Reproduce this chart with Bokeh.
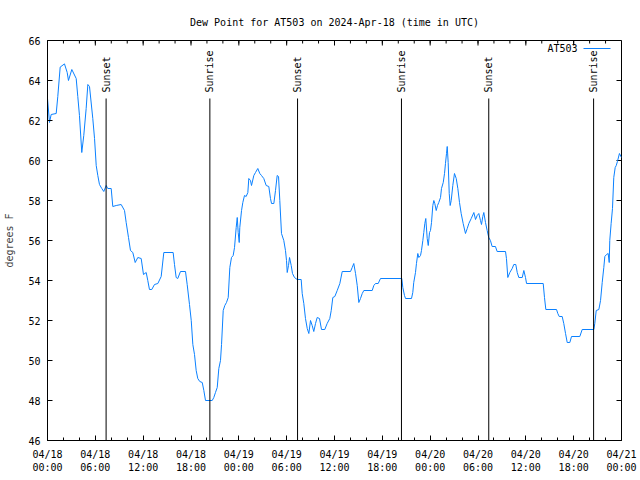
import math
import pandas as pd
from bokeh.plotting import figure
from bokeh.models import (FixedTicker, DatetimeTickFormatter, Range1d, Label, Arrow,
                          ColumnDataSource)
from bokeh.core.properties import value
from bokeh.embed import file_html
from bokeh.resources import INLINE

# ---------------- data ----------------
start = "2024-04-18 00:00"
end = "2024-04-21 00:00"
hours = [0.00, 0.25, 0.46, 1.09, 1.29, 1.59, 2.13, 2.47, 2.63, 3.05, 3.60, 3.80, 4.01, 4.30,
         4.55, 4.85, 5.06, 5.27, 5.68, 5.90, 6.11, 6.31, 6.52, 6.81, 7.06, 7.36, 7.56, 7.99,
         8.19, 8.62, 9.24, 9.66, 9.87, 10.16, 10.41, 10.70, 11.00, 11.33, 11.75, 12.04, 12.38,
         12.58, 12.79, 13.08, 13.42, 13.84, 14.26, 14.59, 15.76, 15.93, 16.14, 16.34, 16.68,
         17.31, 17.52, 17.81, 18.03, 18.23, 18.44, 18.65, 18.85, 19.10, 19.41, 19.61, 19.82,
         20.66, 20.86, 21.07, 21.29, 21.49, 21.70, 21.83, 22.04, 22.24, 22.45, 22.67, 22.87,
         23.08, 23.29, 23.46, 23.67, 23.80, 23.92, 24.05, 24.12, 24.34, 24.50, 24.71, 24.92,
         25.13, 25.25, 25.46, 25.59, 25.88, 26.09, 26.38, 26.63, 26.84, 27.13, 27.43, 27.76,
         27.97, 28.10, 28.39, 28.60, 28.81, 28.98, 29.14, 29.35, 29.64, 29.85, 29.98, 30.07,
         30.23, 30.36, 30.57, 30.73, 30.98, 31.32, 31.82, 31.95, 32.15, 32.36, 32.58, 32.78,
         32.99, 33.20, 33.40, 33.62, 33.83, 34.12, 34.37, 34.78, 35.08, 35.41, 35.59, 35.79,
         36.04, 36.34, 36.67, 36.97, 38.01, 38.22, 38.42, 38.64, 38.85, 39.05, 39.26, 39.48,
         39.68, 40.73, 40.93, 41.14, 41.48, 41.77, 44.44, 44.57, 44.78, 44.91, 45.66, 45.82,
         45.94, 46.16, 46.28, 46.45, 46.58, 46.79, 46.91, 47.08, 47.20, 47.33, 47.45, 47.63,
         47.76, 47.92, 48.04, 48.17, 48.33, 48.46, 48.58, 48.76, 48.92, 49.08, 49.30, 49.42,
         49.64, 49.80, 49.92, 50.05, 50.14, 50.26, 50.39, 50.51, 50.64, 50.84, 51.05, 51.27,
         51.47, 51.68, 51.89, 52.14, 52.43, 52.65, 52.85, 53.15, 53.48, 53.69, 53.90, 54.10,
         54.31, 54.44, 54.60, 54.73, 54.94, 55.15, 55.35, 55.56, 55.77, 56.19, 56.40, 57.45,
         57.57, 57.74, 57.99, 58.29, 58.49, 58.74, 58.92, 59.12, 59.55, 59.75, 59.96, 60.09,
         62.18, 62.34, 62.51, 63.85, 64.01, 64.19, 64.56, 64.76, 64.98, 65.19, 65.52, 65.73,
         66.77, 67.07, 68.53, 68.65, 68.83, 69.16, 69.37, 69.58, 69.78, 69.91, 70.12, 70.33,
         70.46, 70.53, 70.70, 70.87, 71.03, 71.21, 71.34, 71.49, 71.74, 72.00]
dewpoint = [63.1, 61.9, 62.3, 62.35, 63.2, 64.67, 64.83, 64.4, 64.0, 64.55, 64.1, 63.2, 62.25, 60.4,
            61.25, 62.6, 63.8, 63.7, 62.1, 61.1, 59.75, 59.25, 58.8, 58.6, 58.45, 58.75, 58.6, 58.6,
            57.7, 57.75, 57.8, 57.5, 56.9, 56.15, 55.5, 55.4, 54.9, 55.15, 55.1, 54.3, 54.4,
            54.0, 53.55, 53.55, 53.8, 53.85, 54.2, 55.4, 55.4, 54.8, 54.15, 54.1, 54.45,
            54.45, 53.8, 52.8, 52.0, 50.8, 50.3, 49.5, 49.1, 48.95, 48.9, 48.5, 48.0,
            48.0, 48.15, 48.4, 48.65, 49.6, 50.0, 50.8, 52.5, 52.75, 52.9, 53.15, 54.65,
            55.15, 55.25, 55.65, 56.65, 57.15, 56.4, 55.9, 56.65, 57.5, 57.9, 58.25, 58.2,
            58.4, 59.1, 59.0, 58.75, 59.25, 59.4, 59.6, 59.35, 59.25, 59.1, 58.75, 58.7,
            58.1, 57.85, 57.85, 58.5, 59.25, 59.2, 58.0, 56.35, 56.0, 55.5, 55.0, 54.4,
            54.75, 55.15, 54.75, 54.35, 54.15, 54.05, 54.05, 53.35, 52.85, 52.1, 51.6, 51.35,
            52.0, 51.75, 51.45, 51.85, 52.15, 52.1, 51.55, 51.55, 51.85, 52.1, 52.5, 53.15,
            53.2, 53.5, 53.85, 54.45, 54.45, 54.65, 54.85, 54.35, 53.75, 52.9, 53.1, 53.35,
            53.5, 53.5, 53.75, 53.85, 53.85, 54.1, 54.1, 53.65, 53.25, 53.1, 53.1, 53.4,
            53.9, 54.4, 54.85, 55.35, 55.15, 55.25, 55.5, 56.0, 56.4, 56.85, 57.1, 56.1,
            55.75, 56.4, 56.5, 56.9, 57.75, 58.0, 57.85, 57.5, 57.75, 57.9, 58.15, 58.6,
            58.9, 59.35, 59.85, 60.35, 60.7, 59.9, 58.35, 57.75, 58.0, 58.75, 59.35, 59.1,
            58.6, 57.9, 57.35, 56.85, 56.35, 56.6, 56.85, 57.1, 57.4, 57.05, 57.25, 57.35,
            57.0, 56.8, 57.2, 57.4, 56.9, 56.5, 56.15, 56.0, 55.7, 55.7, 55.45, 55.45,
            55.1, 54.15, 54.4, 54.6, 54.8, 54.8, 54.4, 54.15, 54.15, 54.5, 54.15, 53.85,
            53.85, 53.15, 52.55, 52.55, 52.35, 52.2, 52.2, 51.85, 51.35, 50.9, 50.9, 51.2,
            51.2, 51.55, 51.55, 51.85, 52.5, 52.55, 53.0, 53.9, 54.65, 55.2, 55.3, 55.35,
            54.9, 56.0, 56.85, 57.6, 59.15, 59.65, 59.75, 59.95, 60.35, 60.15]
event_times = ["2024-04-18 07:21", "2024-04-18 20:22", "2024-04-19 07:22",
               "2024-04-19 20:24", "2024-04-20 07:21", "2024-04-20 20:30"]
event_names = ["Sunset", "Sunrise", "Sunset", "Sunrise", "Sunset", "Sunrise"]
y_ticks = [46, 48, 50, 52, 54, 56, 58, 60, 62, 64, 66]
x_tick_hours = [0, 6, 12, 18, 24, 30, 36, 42, 48, 54, 60, 66, 72]
x_minor_hours = list(range(0, 73, 2))
series_name = "AT503"
title_text = "Dew Point for AT503 on 2024-Apr-18 (time in UTC)"
y_label = "degrees F"

# ---------------- build ----------------
FONT = "DejaVu Sans Mono"
FS = "10px"
LINE_COLOR = "#0a80ff"
FRAME_W, FRAME_H = 574, 400
MAJ, MIN = 5, 3

t0 = pd.Timestamp(start)
t1 = pd.Timestamp(end)
times = [t0 + pd.Timedelta(hours=h) for h in hours]
ev = [pd.Timestamp(t) for t in event_times]


def ms(ts):
    return ts.value / 1e6


major = [ms(t0 + pd.Timedelta(hours=h)) for h in x_tick_hours]
minor = [ms(t0 + pd.Timedelta(hours=h)) for h in x_minor_hours]
xticker = FixedTicker(ticks=major, minor_ticks=minor)
yticker = FixedTicker(ticks=y_ticks, minor_ticks=[])
fmt_str = "%m/%d\n%H:%M"
xfmt = DatetimeTickFormatter(hours=fmt_str, days=fmt_str, hourmin=fmt_str, minutes=fmt_str,
                             months=fmt_str, years=fmt_str, minsec=fmt_str, seconds=fmt_str)

ylo, yhi = y_ticks[0], y_ticks[-1]
p = figure(width=640, height=480, x_axis_type="datetime",
           x_range=Range1d(t0, t1), y_range=Range1d(ylo, yhi),
           output_backend="svg", toolbar_location=None,
           min_border_left=47, min_border_right=640 - 47 - FRAME_W,
           min_border_top=40, min_border_bottom=480 - 40 - FRAME_H)
p.xgrid.visible = False
p.ygrid.visible = False
p.outline_line_color = "black"
p.outline_line_width = 1
p.background_fill_color = "white"
p.border_fill_color = "white"

p.title.text = title_text
p.title.align = "center"
p.title.text_font = FONT
p.title.text_font_size = FS
p.title.text_font_style = "normal"
p.title.text_color = "black"
p.title.standoff = 25


def style_axis(ax):
    ax.axis_line_color = "black"
    ax.major_tick_in = MAJ
    ax.major_tick_out = 0
    ax.minor_tick_in = MIN
    ax.minor_tick_out = 0
    ax.major_tick_line_color = "black"
    ax.minor_tick_line_color = "black"
    ax.major_label_text_font = FONT
    ax.major_label_text_font_size = FS
    ax.major_label_text_color = "black"


xa = p.xaxis[0]
xa.ticker = xticker
xa.formatter = xfmt
style_axis(xa)
xa.major_label_standoff = 8

ya = p.yaxis[0]
ya.ticker = yticker
style_axis(ya)
ya.major_label_standoff = 7
ya.axis_label = y_label
ya.axis_label_text_font = FONT
ya.axis_label_text_font_size = FS
ya.axis_label_text_font_style = "normal"
ya.axis_label_standoff = 10

# mirrored ticks on the top and right edges (gnuplot style), lengths in pixels
ypp = (yhi - ylo) / FRAME_H             # data units per pixel (y)
xpp = (ms(t1) - ms(t0)) / FRAME_W       # ms per pixel (x)
top_x = major + minor
top_len = [MAJ] * len(major) + [MIN] * len(minor)
tsrc = ColumnDataSource(dict(x=top_x, y0=[yhi] * len(top_x),
                             y1=[yhi - L * ypp for L in top_len]))
p.segment(x0="x", y0="y0", x1="x", y1="y1", source=tsrc, line_color="black", line_width=1)
rsrc = ColumnDataSource(dict(y=y_ticks, x0=[ms(t1)] * len(y_ticks),
                             x1=[ms(t1) - MAJ * xpp] * len(y_ticks)))
p.segment(x0="x0", y0="y", x1="x1", y1="y", source=rsrc, line_color="black", line_width=1)

src = ColumnDataSource(dict(t=times, v=dewpoint))
p.line("t", "v", source=src, line_color=LINE_COLOR, line_width=1)

line_top = ylo + 0.855 * (yhi - ylo)
label_y = ylo + 0.87 * (yhi - ylo)
esrc = ColumnDataSource(dict(t=ev, name=event_names,
                             y0=[ylo] * len(ev), y1=[line_top] * len(ev),
                             ly=[label_y] * len(ev)))
p.segment(x0="t", y0="y0", x1="t", y1="y1", source=esrc, line_color="black", line_width=1)
p.text(x="t", y="ly", text="name", source=esrc, angle=math.pi / 2,
       text_align="left", text_baseline="middle", text_font=value(FONT),
       text_font_size=FS, text_color="black")

# legend (gnuplot style: text then line sample), screen units relative to frame
p.add_layout(Label(x=530, y=392, x_units="screen", y_units="screen", text=series_name,
                   text_align="right", text_baseline="middle", text_font=FONT,
                   text_font_size=FS, text_color="black"))
p.add_layout(Arrow(x_start=536, y_start=392, x_end=563, y_end=392,
                   start_units="screen", end_units="screen", end=None,
                   line_color=LINE_COLOR, line_width=1))

open("out.html", "w").write(file_html(p, INLINE))
